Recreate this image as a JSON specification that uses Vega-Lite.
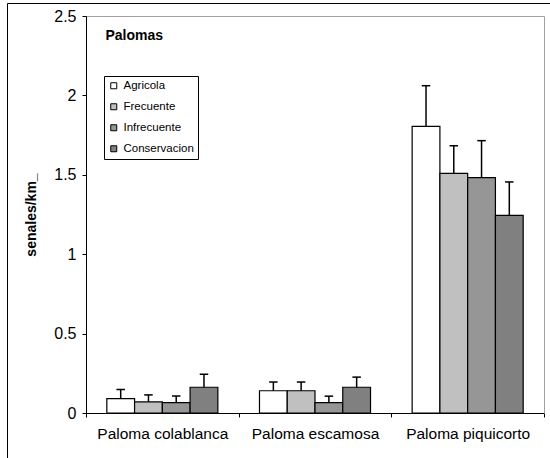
{
  "$schema": "https://vega.github.io/schema/vega-lite/v6.json",
  "autosize": {"type": "none"},
  "padding": {"left": 7, "top": 3, "right": -10, "bottom": -10},
  "width": 553,
  "height": 465,
  "title": {
    "text": "Palomas",
    "anchor": "start",
    "frame": "group",
    "orient": "top",
    "offset": -50.5,
    "baseline": "alphabetic",
    "dx": 98.5,
    "fontSize": 14,
    "fontWeight": "bold",
    "font": "Liberation Sans",
    "color": "black"
  },
  "data": {
    "values": [
      {"especie": "Paloma colablanca", "habitat": "Agricola", "media": 0.09, "sup": 0.148},
      {"especie": "Paloma colablanca", "habitat": "Frecuente", "media": 0.07, "sup": 0.114},
      {"especie": "Paloma colablanca", "habitat": "Infrecuente", "media": 0.065, "sup": 0.107},
      {"especie": "Paloma colablanca", "habitat": "Conservacion", "media": 0.162, "sup": 0.244},
      {"especie": "Paloma escamosa", "habitat": "Agricola", "media": 0.14, "sup": 0.195},
      {"especie": "Paloma escamosa", "habitat": "Frecuente", "media": 0.14, "sup": 0.195},
      {"especie": "Paloma escamosa", "habitat": "Infrecuente", "media": 0.065, "sup": 0.106},
      {"especie": "Paloma escamosa", "habitat": "Conservacion", "media": 0.162, "sup": 0.226},
      {"especie": "Paloma piquicorto", "habitat": "Agricola", "media": 1.805, "sup": 2.061},
      {"especie": "Paloma piquicorto", "habitat": "Frecuente", "media": 1.509, "sup": 1.683},
      {"especie": "Paloma piquicorto", "habitat": "Infrecuente", "media": 1.482, "sup": 1.715},
      {"especie": "Paloma piquicorto", "habitat": "Conservacion", "media": 1.245, "sup": 1.455}
    ]
  },
  "layer": [
    {
      "mark": {"type": "bar", "stroke": "black", "strokeWidth": 1.2},
      "encoding": {
        "x": {
          "field": "especie",
          "type": "nominal",
          "scale": {"range": [79, 537], "paddingInner": 0, "paddingOuter": 0},
          "axis": {
            "orient": "bottom",
            "offset": -55,
            "title": null,
            "labelAngle": 0,
            "labelFontSize": 15.5,
            "labelColor": "black",
            "labelPadding": 9,
            "tickSize": 4,
            "tickBand": "extent",
            "tickColor": "black",
            "domainColor": "black",
            "grid": false
          }
        },
        "xOffset": {
          "field": "habitat",
          "type": "nominal",
          "sort": ["Agricola", "Frecuente", "Infrecuente", "Conservacion"],
          "scale": {"paddingInner": 0, "paddingOuter": 0.75}
        },
        "y": {
          "field": "media",
          "type": "quantitative",
          "scale": {"domain": [0, 2.5], "range": [410, 13], "nice": false},
          "axis": {
            "orient": "left",
            "offset": -79,
            "values": [0, 0.5, 1, 1.5, 2, 2.5],
            "format": ".1~f",
            "grid": false,
            "title": "senales/km_",
            "titleFontSize": 14,
            "titleFontWeight": "bold",
            "titleColor": "black",
            "titleX": -54.5,
            "titleBaseline": "middle",
            "titleAlign": "center",
            "labelFontSize": 16,
            "labelColor": "black",
            "labelPadding": 6,
            "tickSize": 4,
            "tickColor": "black",
            "domainColor": "black"
          }
        },
        "fill": {
          "field": "habitat",
          "type": "nominal",
          "sort": ["Agricola", "Frecuente", "Infrecuente", "Conservacion"],
          "scale": {
            "domain": ["Agricola", "Frecuente", "Infrecuente", "Conservacion"],
            "range": ["#ffffff", "#c0c0c0", "#969696", "#808080"]
          },
          "legend": {
            "orient": "none",
            "legendX": 97,
            "legendY": 73,
            "title": null,
            "strokeColor": "black",
            "fillColor": "white",
            "padding": 4,
            "symbolType": "square",
            "symbolSize": 36,
            "symbolStrokeColor": "black",
            "symbolStrokeWidth": 1,
            "labelFontSize": 11.5,
            "labelColor": "black",
            "labelOffset": 4,
            "rowPadding": 8
          }
        }
      }
    },
    {
      "mark": {"type": "rule", "color": "black", "strokeWidth": 1.5},
      "encoding": {
        "x": {
          "field": "especie",
          "type": "nominal",
          "axis": {
            "orient": "top",
            "offset": -13,
            "title": null,
            "labels": false,
            "ticks": false,
            "grid": false,
            "domainColor": "#a0a0a0"
          }
        },
        "xOffset": {"field": "habitat", "type": "nominal", "sort": ["Agricola", "Frecuente", "Infrecuente", "Conservacion"]},
        "y": {
          "field": "media",
          "type": "quantitative",
          "axis": {
            "orient": "right",
            "offset": -16,
            "title": null,
            "labels": false,
            "ticks": false,
            "grid": false,
            "domainColor": "#a0a0a0"
          }
        },
        "y2": {"field": "sup"}
      }
    },
    {
      "mark": {"type": "tick", "color": "black", "thickness": 1.5, "opacity": 1},
      "encoding": {
        "x": {"field": "especie", "type": "nominal", "axis": null},
        "xOffset": {"field": "habitat", "type": "nominal", "sort": ["Agricola", "Frecuente", "Infrecuente", "Conservacion"]},
        "y": {"field": "sup", "type": "quantitative", "axis": null},
        "size": {"value": 8.5}
      }
    }
  ],
  "resolve": {"axis": {"x": "independent", "y": "independent"}},
  "config": {
    "font": "Liberation Sans",
    "background": "white",
    "view": {"stroke": "black", "strokeWidth": 1}
  }
}
